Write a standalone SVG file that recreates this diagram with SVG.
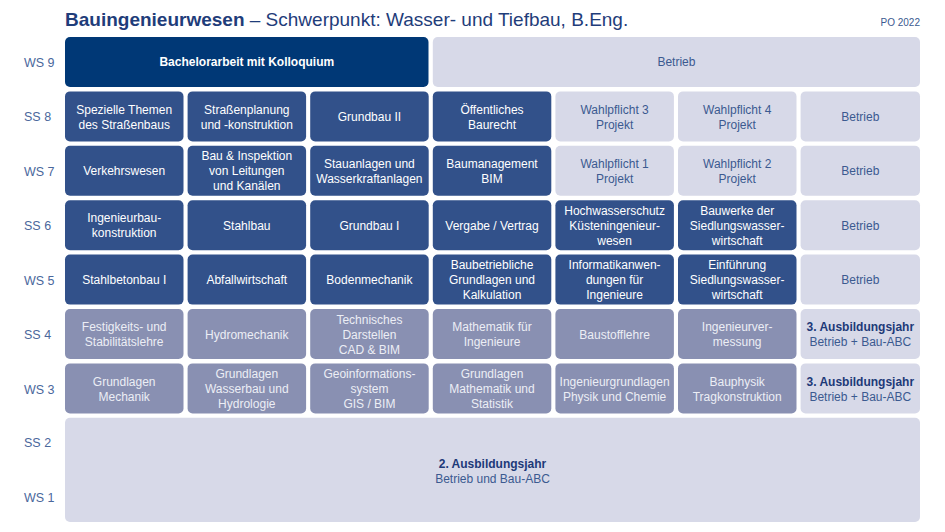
<svg xmlns="http://www.w3.org/2000/svg" width="945" height="532" viewBox="0 0 945 532">
<style>
text{font-family:"Liberation Sans",Arial,sans-serif;text-anchor:middle}
.d{fill:#32518a}
.n{fill:#003876}
.l{fill:#d7d9e8}
.g{fill:#8990b2}
.td{font-size:12px;fill:#ffffff}
.tg{font-size:12px;fill:#eceef5}
.tl{font-size:12px;fill:#3b5a90}
.tb{font-size:12px;font-weight:bold;fill:#1d3a78}
.sem{font-size:12.5px;fill:#4a679c;text-anchor:start}
</style>
<rect width="945" height="532" fill="#ffffff"/>
<g id="title">
<text x="65" y="26" style="text-anchor:start;font-size:19px;fill:#1f3d7a"><tspan font-weight="bold">Bauingenieurwesen</tspan> – Schwerpunkt: Wasser- und Tiefbau, B.Eng.</text>
<text x="920" y="26" style="text-anchor:end;font-size:10px;fill:#3b5a90">PO 2022</text>
</g>
<g id="semesters">
<text class="sem" x="24" y="66.5">WS 9</text>
<text class="sem" x="24" y="121">SS 8</text>
<text class="sem" x="24" y="175.5">WS 7</text>
<text class="sem" x="24" y="230">SS 6</text>
<text class="sem" x="24" y="284.5">WS 5</text>
<text class="sem" x="24" y="339">SS 4</text>
<text class="sem" x="24" y="393.5">WS 3</text>
<text class="sem" x="24" y="447">SS 2</text>
<text class="sem" x="24" y="502">WS 1</text>
</g>
<g id="ws9">
<g id="bachelor"><rect class="n" x="65" y="37" width="363.5" height="50" rx="5"/><text class="td" x="246.8" y="66" font-weight="bold">Bachelorarbeit mit Kolloquium</text></g>
<g id="betrieb9"><rect class="l" x="432.8" y="37" width="487.2" height="50" rx="5"/><text class="tl" x="676.4" y="66">Betrieb</text></g>
</g>
<g id="ss8">
<g id="m8a"><rect class="d" x="65" y="91.4" width="118.5" height="50" rx="5"/><text class="td" x="124.2" y="113.5">Spezielle Themen</text><text class="td" x="124.2" y="128.5">des Straßenbaus</text></g>
<g id="m8b"><rect class="d" x="187.6" y="91.4" width="118.5" height="50" rx="5"/><text class="td" x="246.8" y="113.5">Straßenplanung</text><text class="td" x="246.8" y="128.5">und -konstruktion</text></g>
<g id="m8c"><rect class="d" x="310.2" y="91.4" width="118.5" height="50" rx="5"/><text class="td" x="369.4" y="120.5">Grundbau II</text></g>
<g id="m8d"><rect class="d" x="432.8" y="91.4" width="118.5" height="50" rx="5"/><text class="td" x="492" y="113.5">Öffentliches</text><text class="td" x="492" y="128.5">Baurecht</text></g>
<g id="m8e"><rect class="l" x="555.4" y="91.4" width="118.5" height="50" rx="5"/><text class="tl" x="614.6" y="113.5">Wahlpflicht 3</text><text class="tl" x="614.6" y="128.5">Projekt</text></g>
<g id="m8f"><rect class="l" x="678" y="91.4" width="118.5" height="50" rx="5"/><text class="tl" x="737.2" y="113.5">Wahlpflicht 4</text><text class="tl" x="737.2" y="128.5">Projekt</text></g>
<g id="m8g"><rect class="l" x="800.6" y="91.4" width="119.4" height="50" rx="5"/><text class="tl" x="860.3" y="120.5">Betrieb</text></g>
</g>
<g id="ws7">
<g id="m7a"><rect class="d" x="65" y="145.8" width="118.5" height="50" rx="5"/><text class="td" x="124.2" y="175">Verkehrswesen</text></g>
<g id="m7b"><rect class="d" x="187.6" y="145.8" width="118.5" height="50" rx="5"/><text class="td" x="246.8" y="160">Bau &amp; Inspektion</text><text class="td" x="246.8" y="175">von Leitungen</text><text class="td" x="246.8" y="190">und Kanälen</text></g>
<g id="m7c"><rect class="d" x="310.2" y="145.8" width="118.5" height="50" rx="5"/><text class="td" x="369.4" y="167.5">Stauanlagen und</text><text class="td" x="369.4" y="182.5">Wasserkraftanlagen</text></g>
<g id="m7d"><rect class="d" x="432.8" y="145.8" width="118.5" height="50" rx="5"/><text class="td" x="492" y="167.5">Baumanagement</text><text class="td" x="492" y="182.5">BIM</text></g>
<g id="m7e"><rect class="l" x="555.4" y="145.8" width="118.5" height="50" rx="5"/><text class="tl" x="614.6" y="167.5">Wahlpflicht 1</text><text class="tl" x="614.6" y="182.5">Projekt</text></g>
<g id="m7f"><rect class="l" x="678" y="145.8" width="118.5" height="50" rx="5"/><text class="tl" x="737.2" y="167.5">Wahlpflicht 2</text><text class="tl" x="737.2" y="182.5">Projekt</text></g>
<g id="m7g"><rect class="l" x="800.6" y="145.8" width="119.4" height="50" rx="5"/><text class="tl" x="860.3" y="175">Betrieb</text></g>
</g>
<g id="ss6">
<g id="m6a"><rect class="d" x="65" y="200.2" width="118.5" height="50" rx="5"/><text class="td" x="124.2" y="222">Ingenieurbau-</text><text class="td" x="124.2" y="237">konstruktion</text></g>
<g id="m6b"><rect class="d" x="187.6" y="200.2" width="118.5" height="50" rx="5"/><text class="td" x="246.8" y="229.5">Stahlbau</text></g>
<g id="m6c"><rect class="d" x="310.2" y="200.2" width="118.5" height="50" rx="5"/><text class="td" x="369.4" y="229.5">Grundbau I</text></g>
<g id="m6d"><rect class="d" x="432.8" y="200.2" width="118.5" height="50" rx="5"/><text class="td" x="492" y="229.5">Vergabe / Vertrag</text></g>
<g id="m6e"><rect class="d" x="555.4" y="200.2" width="118.5" height="50" rx="5"/><text class="td" x="614.6" y="214.5">Hochwasserschutz</text><text class="td" x="614.6" y="229.5">Küsteningenieur-</text><text class="td" x="614.6" y="244.5">wesen</text></g>
<g id="m6f"><rect class="d" x="678" y="200.2" width="118.5" height="50" rx="5"/><text class="td" x="737.2" y="214.5">Bauwerke der</text><text class="td" x="737.2" y="229.5">Siedlungswasser-</text><text class="td" x="737.2" y="244.5">wirtschaft</text></g>
<g id="m6g"><rect class="l" x="800.6" y="200.2" width="119.4" height="50" rx="5"/><text class="tl" x="860.3" y="229.5">Betrieb</text></g>
</g>
<g id="ws5">
<g id="m5a"><rect class="d" x="65" y="254.6" width="118.5" height="50" rx="5"/><text class="td" x="124.2" y="284">Stahlbetonbau I</text></g>
<g id="m5b"><rect class="d" x="187.6" y="254.6" width="118.5" height="50" rx="5"/><text class="td" x="246.8" y="284">Abfallwirtschaft</text></g>
<g id="m5c"><rect class="d" x="310.2" y="254.6" width="118.5" height="50" rx="5"/><text class="td" x="369.4" y="284">Bodenmechanik</text></g>
<g id="m5d"><rect class="d" x="432.8" y="254.6" width="118.5" height="50" rx="5"/><text class="td" x="492" y="269">Baubetriebliche</text><text class="td" x="492" y="284">Grundlagen und</text><text class="td" x="492" y="299">Kalkulation</text></g>
<g id="m5e"><rect class="d" x="555.4" y="254.6" width="118.5" height="50" rx="5"/><text class="td" x="614.6" y="269">Informatikanwen-</text><text class="td" x="614.6" y="284">dungen für</text><text class="td" x="614.6" y="299">Ingenieure</text></g>
<g id="m5f"><rect class="d" x="678" y="254.6" width="118.5" height="50" rx="5"/><text class="td" x="737.2" y="269">Einführung</text><text class="td" x="737.2" y="284">Siedlungswasser-</text><text class="td" x="737.2" y="299">wirtschaft</text></g>
<g id="m5g"><rect class="l" x="800.6" y="254.6" width="119.4" height="50" rx="5"/><text class="tl" x="860.3" y="284">Betrieb</text></g>
</g>
<g id="ss4">
<g id="m4a"><rect class="g" x="65" y="309" width="118.5" height="50" rx="5"/><text class="tg" x="124.2" y="331">Festigkeits- und</text><text class="tg" x="124.2" y="346">Stabilitätslehre</text></g>
<g id="m4b"><rect class="g" x="187.6" y="309" width="118.5" height="50" rx="5"/><text class="tg" x="246.8" y="338.5">Hydromechanik</text></g>
<g id="m4c"><rect class="g" x="310.2" y="309" width="118.5" height="50" rx="5"/><text class="tg" x="369.4" y="323.5">Technisches</text><text class="tg" x="369.4" y="338.5">Darstellen</text><text class="tg" x="369.4" y="353.5">CAD &amp; BIM</text></g>
<g id="m4d"><rect class="g" x="432.8" y="309" width="118.5" height="50" rx="5"/><text class="tg" x="492" y="331">Mathematik für</text><text class="tg" x="492" y="346">Ingenieure</text></g>
<g id="m4e"><rect class="g" x="555.4" y="309" width="118.5" height="50" rx="5"/><text class="tg" x="614.6" y="338.5">Baustofflehre</text></g>
<g id="m4f"><rect class="g" x="678" y="309" width="118.5" height="50" rx="5"/><text class="tg" x="737.2" y="331">Ingenieurver-</text><text class="tg" x="737.2" y="346">messung</text></g>
<g id="m4g"><rect class="l" x="800.6" y="309" width="119.4" height="50" rx="5"/><text class="tb" x="860.3" y="331">3. Ausbildungsjahr</text><text class="tl" x="860.3" y="346">Betrieb + Bau-ABC</text></g>
</g>
<g id="ws3">
<g id="m3a"><rect class="g" x="65" y="363.4" width="118.5" height="50" rx="5"/><text class="tg" x="124.2" y="385.5">Grundlagen</text><text class="tg" x="124.2" y="400.5">Mechanik</text></g>
<g id="m3b"><rect class="g" x="187.6" y="363.4" width="118.5" height="50" rx="5"/><text class="tg" x="246.8" y="378">Grundlagen</text><text class="tg" x="246.8" y="393">Wasserbau und</text><text class="tg" x="246.8" y="408">Hydrologie</text></g>
<g id="m3c"><rect class="g" x="310.2" y="363.4" width="118.5" height="50" rx="5"/><text class="tg" x="369.4" y="378">Geoinformations-</text><text class="tg" x="369.4" y="393">system</text><text class="tg" x="369.4" y="408">GIS / BIM</text></g>
<g id="m3d"><rect class="g" x="432.8" y="363.4" width="118.5" height="50" rx="5"/><text class="tg" x="492" y="378">Grundlagen</text><text class="tg" x="492" y="393">Mathematik und</text><text class="tg" x="492" y="408">Statistik</text></g>
<g id="m3e"><rect class="g" x="555.4" y="363.4" width="118.5" height="50" rx="5"/><text class="tg" x="614.6" y="385.5">Ingenieurgrundlagen</text><text class="tg" x="614.6" y="400.5">Physik und Chemie</text></g>
<g id="m3f"><rect class="g" x="678" y="363.4" width="118.5" height="50" rx="5"/><text class="tg" x="737.2" y="385.5">Bauphysik</text><text class="tg" x="737.2" y="400.5">Tragkonstruktion</text></g>
<g id="m3g"><rect class="l" x="800.6" y="363.4" width="119.4" height="50" rx="5"/><text class="tb" x="860.3" y="385.5">3. Ausbildungsjahr</text><text class="tl" x="860.3" y="400.5">Betrieb + Bau-ABC</text></g>
</g>
<g id="ausbildung2">
<rect class="l" x="65" y="417.8" width="855" height="104.2" rx="5"/>
<text class="tb" x="492.5" y="467.5">2. Ausbildungsjahr</text>
<text class="tl" x="492.5" y="482.5">Betrieb und Bau-ABC</text>
</g>
<g id="connectors"></g>
</svg>
